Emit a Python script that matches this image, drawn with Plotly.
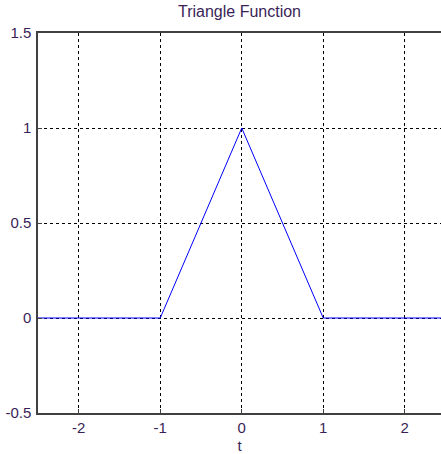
import plotly.graph_objects as go

# Triangle function sampled at its breakpoints
t_values = [-2.5, -1.0, 0.0, 1.0, 2.5]
tri_values = [0.0, 0.0, 1.0, 0.0, 0.0]

x_ticks = [-2, -1, 0, 1, 2]
y_ticks = [-0.5, 0, 0.5, 1, 1.5]
y_tick_text = ["-0.5", "0", "0.5", "1", "1.5"]

text_color = "#3a1f58"
font_family = "Liberation Sans, Arial, sans-serif"

fig = go.Figure()
fig.add_trace(go.Scatter(
    x=t_values, y=tri_values, mode="lines",
    line=dict(color="#0000ff", width=1),
    showlegend=False, hoverinfo="skip",
))

fig.update_layout(
    width=441, height=454,
    margin=dict(l=38, r=0, t=33, b=41),
    paper_bgcolor="white", plot_bgcolor="white",
    font=dict(family=font_family, size=15, color=text_color),
    title=dict(text="Triangle Function", x=0.5, xref="paper",
               y=1, yref="container", yanchor="top", pad=dict(t=6),
               font=dict(size=16, color=text_color)),
    xaxis=dict(
        range=[-2.5, 2.445], tickvals=x_ticks, ticktext=[str(v) for v in x_ticks],
        showgrid=True, gridcolor="black", gridwidth=1, griddash="3px,3px",
        zeroline=False, showline=True, linecolor="#404040", linewidth=1.5,
        mirror=True, ticks="inside", ticklen=4, tickcolor="#404040",
        title=dict(text="t", standoff=8, font=dict(size=15, color=text_color)),
        fixedrange=True,
    ),
    yaxis=dict(
        range=[-0.5, 1.5], tickvals=y_ticks, ticktext=y_tick_text,
        showgrid=True, gridcolor="black", gridwidth=1, griddash="3px,3px",
        zeroline=False, showline=True, linecolor="#404040", linewidth=1.5,
        mirror=False, ticks="inside", ticklen=4, tickcolor="#404040",
        ticklabelstandoff=2,
        fixedrange=True,
    ),
)

fig.write_html("out.html", config={"displayModeBar": False})
